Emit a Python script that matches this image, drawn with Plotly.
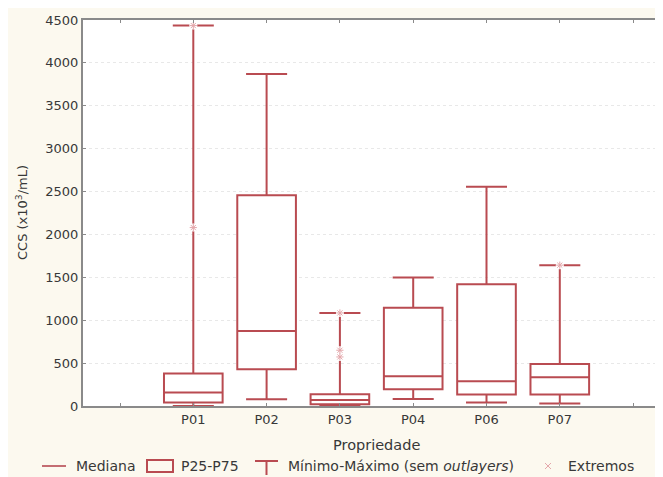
import plotly.graph_objects as go

# ---- data ----
categories = ["P01", "P02", "P03", "P04", "P06", "P07"]
q1_vals = [40, 428, 20, 195, 133, 133]
median_vals = [156, 875, 70, 347, 288, 335]
q3_vals = [378, 2458, 136, 1144, 1420, 490]
min_vals = [0, 78, 0, 82, 40, 28]
max_vals = [4435, 3870, 1085, 1498, 2556, 1642]
extreme_cats = ["P01", "P01", "P03", "P03", "P03", "P07"]
extreme_vals = [4435, 2080, 1085, 650, 572, 1642]
y_ticks = list(range(0, 4501, 500))

# page offset (browser body margin) and figure geometry in reference pixels
OFF = 8
W, H = 663 - OFF, 477 - OFF
PLOT_L, PLOT_R, PLOT_T, PLOT_B = 83, 663, 20, 406
ML, MR, MT, MB = PLOT_L - OFF, 663 - PLOT_R, PLOT_T - OFF, 477 - PLOT_B
PW, PH = PLOT_R - PLOT_L, PLOT_B - PLOT_T

def px_x(p):
    return (p - PLOT_L) / PW

def px_y(p):
    return (PLOT_B - p) / PH

BOX_COLOR = "#b94b51"
EXT_COLOR = "#e4a7ab"
TEXT = "#383838"
AXIS = "#8a8a8a"
CREAM = "#fcf9ef"
FONT = "DejaVu Sans"

pos = [categories.index(c) + 1 for c in categories]
ext_pos = [categories.index(c) + 1 for c in extreme_cats]

fig = go.Figure()
fig.add_trace(go.Box(
    x=pos, q1=q1_vals, median=median_vals, q3=q3_vals,
    lowerfence=min_vals, upperfence=max_vals,
    width=0.8, whiskerwidth=0.7, boxpoints=False,
    fillcolor="white", line=dict(color=BOX_COLOR, width=2),
    showlegend=False, hoverinfo="skip",
))
fig.add_trace(go.Scatter(
    x=ext_pos, y=extreme_vals, mode="markers",
    marker=dict(symbol="circle", size=8, color="white"),
    showlegend=False, hoverinfo="skip",
))
fig.add_trace(go.Scatter(
    x=ext_pos, y=extreme_vals, mode="markers",
    marker=dict(symbol="asterisk-open", size=6, color=EXT_COLOR,
                line=dict(color=EXT_COLOR, width=1)),
    showlegend=False, hoverinfo="skip",
))

UNIT = 73.3  # pixels per category slot
xmin = -(120 - PLOT_L) / UNIT
xmax = xmin + PW / UNIT

fig.update_xaxes(
    range=[xmin, xmax], tickmode="array", tickvals=pos, ticktext=categories,
    showline=True, linecolor=AXIS, linewidth=2,
    mirror="ticks", ticks="inside", ticklen=3, tickcolor=AXIS,
    minor=dict(ticks="inside", ticklen=3, tickcolor=AXIS, tickmode="linear",
               tick0=0, dtick=1, showgrid=False),
    showgrid=False, zeroline=False,
    tickfont=dict(family=FONT, size=13, color=TEXT),
)
fig.update_yaxes(
    range=[0, 4500], tickmode="array", tickvals=y_ticks,
    showline=True, linecolor=AXIS, linewidth=2,
    ticks="inside", ticklen=3, tickcolor=AXIS,
    showgrid=True, gridcolor="#e8e8e8", griddash="dot", gridwidth=1,
    zeroline=False,
    tickfont=dict(family=FONT, size=13, color=TEXT),
)

shapes = [
    dict(type="line", xref="paper", yref="paper", x0=px_x(42), x1=px_x(66),
         y0=px_y(466), y1=px_y(466), line=dict(color="#c46d72", width=2)),
    dict(type="rect", xref="paper", yref="paper", x0=px_x(147), x1=px_x(173),
         y0=px_y(472), y1=px_y(460), line=dict(color=BOX_COLOR, width=2),
         fillcolor="rgba(0,0,0,0)"),
    dict(type="line", xref="paper", yref="paper", x0=px_x(255), x1=px_x(278),
         y0=px_y(461), y1=px_y(461), line=dict(color=BOX_COLOR, width=2)),
    dict(type="line", xref="paper", yref="paper", x0=px_x(266.5), x1=px_x(266.5),
         y0=px_y(461), y1=px_y(475), line=dict(color=BOX_COLOR, width=2)),
    dict(type="path", xref="paper", yref="paper",
         path="M {a},{b} L {c},{d} M {a},{d} L {c},{b}".format(
             a=px_x(545), b=px_y(463), c=px_x(551), d=px_y(469)),
         line=dict(color=EXT_COLOR, width=1)),
]

def ann(text, x, y, size=14, xanchor="left", **kw):
    return dict(text=text, xref="paper", yref="paper", x=px_x(x), y=px_y(y),
                xanchor=xanchor, yanchor="middle", showarrow=False,
                font=dict(family=FONT, size=size, color=TEXT), **kw)

annotations = [
    ann("CCS (x10<sup>3</sup>/mL)", 22, 213, size=13, xanchor="center", textangle=-90),
    ann("Propriedade", 376, 445, size=14.5, xanchor="center"),
    ann("Mediana", 74, 466),
    ann("P25-P75", 179, 466),
    ann("Mínimo-Máximo (sem <i>outlayers</i>)", 286, 466),
    ann("Extremos", 566, 466),
]

fig.update_layout(
    width=W, height=H, margin=dict(l=ML, r=MR, t=MT, b=MB, pad=0),
    paper_bgcolor=CREAM, plot_bgcolor="white",
    shapes=shapes, annotations=annotations, showlegend=False,
)

fig.write_html("out.html")
